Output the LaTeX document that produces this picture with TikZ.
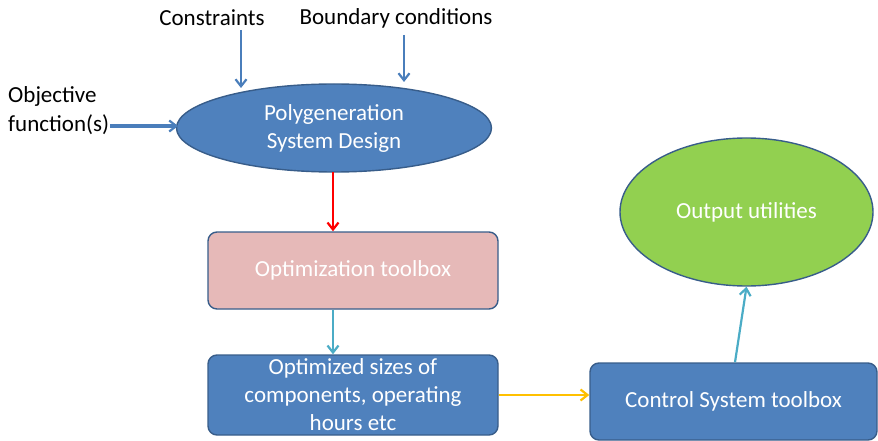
\documentclass[tikz,border=0pt]{standalone}
\usepackage{fontspec}
\setmainfont{Carlito}
\usetikzlibrary{shapes.geometric,arrows.meta}
\definecolor{obl}{HTML}{4F81BD}
\definecolor{obd}{HTML}{385D8A}
\definecolor{opk}{HTML}{E6B9B8}
\definecolor{ogr}{HTML}{92D050}
\definecolor{oar}{HTML}{4A7EBB}
\definecolor{olb}{HTML}{4BACC6}
\definecolor{oye}{HTML}{FFC000}
\tikzset{
  lbl/.style={font=\fontsize{23}{29}\selectfont, text=black, inner sep=0pt},
  shp/.style={font=\fontsize{23}{28}\selectfont, text=white, draw=obd, line width=1.4pt, align=center},
  ell/.style={shp, ellipse, inner sep=0pt},
  box/.style={shp, rectangle, rounded corners=9pt, inner sep=0pt},
  arr/.style={line width=2.2pt, -{Straight Barb[length=7pt,width=11pt,line width=2.2pt]}},
}
\begin{document}
\begin{tikzpicture}[x=1pt,y=-1pt]
\useasboundingbox (0,0) rectangle (878,441);
\node[lbl] (con) at (212,18) {Constraints};
\node[lbl] (bc) at (396,18) {Boundary conditions};
\node[lbl, align=left, anchor=west] (obj) at (8,111) {Objective\\function(s)};
\coordinate (objend) at (110,126);
\node[ell, fill=obl, minimum width=315, minimum height=88] (psd) at (334,128) {Polygeneration\\System Design};
\node[box, fill=opk, minimum width=290, minimum height=77] (opt) at (353,270.5) {Optimization toolbox};
\node[box, fill=obl, minimum width=290, minimum height=80] (osz) at (353,395) {\raisebox{-3pt}{\parbox{280pt}{\centering Optimized sizes of\\components, operating\\hours etc}}};
\node[box, fill=obl, minimum width=287, minimum height=77] (cst) at (733.5,401.5) {Control System toolbox};
\node[ell, fill=ogr, minimum width=253, minimum height=148] (out) at (746.5,212) {Output utilities};
\coordinate (c1) at (241,30);
\coordinate (c2) at (241,88);
\coordinate (b1) at (404,35);
\coordinate (b2) at (404,82);
\coordinate (objtip) at (178,126);
\draw[arr, oar] (c1) -- (c2);
\draw[arr, oar] (b1) -- (b2);
\draw[arr, oar, line width=3.2pt] (objend) -- (objtip);
\draw[arr, red] (333,172) -- (opt.north -| 333,0);
\draw[arr, olb] (opt.south -| 333,0) -- (osz.north -| 333,0);
\draw[arr, oye] (osz.east |- 0,395) -- (cst.west |- 0,395);
\draw[arr, olb] (cst.north -| 735,0) -- (out.south);
\end{tikzpicture}
\end{document}
